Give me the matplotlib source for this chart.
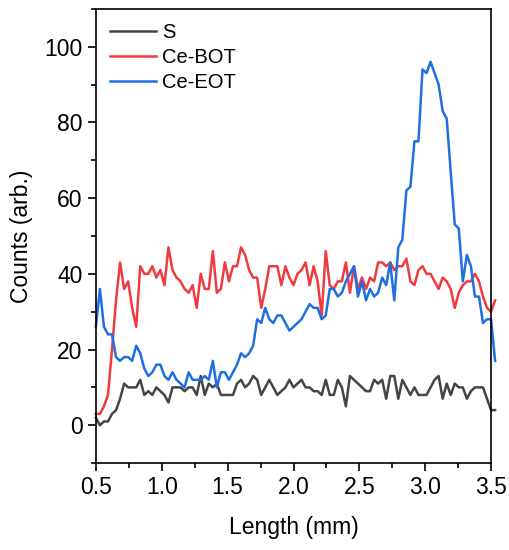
import numpy as np
import matplotlib.pyplot as plt
from matplotlib.ticker import MultipleLocator

plt.rcParams['font.family'] = ['Liberation Sans', 'DejaVu Sans']

# sample positions along the line scan (mm)
length_mm = np.linspace(0.5, 3.53, 100)

counts_s = [2, 0, 1, 1, 3, 4, 7, 11, 10, 10,
            10, 12, 8, 9, 8, 10, 9, 8, 6, 10,
            10, 10, 9, 10, 10, 8, 13, 8, 11, 10,
            11, 8, 8, 8, 8, 11, 12, 10, 11, 13,
            12, 8, 10, 12, 10, 8, 9, 10, 12, 10,
            11, 12, 10, 10, 9, 9, 8, 12, 8, 8,
            12, 10, 5, 13, 12, 11, 10, 9, 9, 12,
            11, 12, 7, 13, 13, 7, 12, 10, 8, 10,
            8, 8, 8, 10, 12, 13, 7, 11, 8, 11,
            10, 10, 7, 9, 10, 10, 10, 7, 4, 4]

counts_bot = [3, 3, 5, 8, 20, 33, 43, 36, 38, 31,
              26, 42, 40, 40, 42, 39, 41, 37, 47, 41,
              39, 38, 36, 35, 37, 31, 40, 36, 36, 46,
              35, 36, 43, 38, 42, 42, 47, 45, 41, 39,
              39, 31, 36, 42, 42, 42, 37, 42, 39, 37,
              40, 41, 43, 37, 42, 38, 29, 46, 37, 36,
              38, 38, 43, 35, 42, 36, 39, 36, 39, 38,
              43, 43, 42, 43, 41, 42, 42, 44, 38, 37,
              41, 42, 40, 40, 38, 36, 39, 38, 36, 31,
              35, 37, 38, 38, 40, 38, 34, 31, 30, 33]

counts_eot = [26, 36, 26, 24, 24, 18, 17, 18, 18, 17,
              21, 19, 15, 13, 14, 16, 16, 13, 12, 14,
              12, 11, 10, 14, 12, 12, 12, 13, 12, 17,
              10, 14, 14, 12, 14, 16, 19, 18, 19, 21,
              28, 27, 31, 28, 27, 29, 29, 27, 25, 26,
              27, 28, 30, 32, 31, 31, 28, 29, 36, 36,
              34, 35, 38, 40, 42, 34, 38, 33, 36, 34,
              35, 39, 37, 43, 33, 47, 49, 62, 63, 75,
              75, 94, 93, 96, 93, 90, 83, 81, 67, 53,
              52, 38, 45, 42, 34, 34, 27, 28, 28, 17]

fig = plt.figure(figsize=(5.1, 5.5), dpi=100)
ax = fig.add_axes([0.188, 0.158, 0.775, 0.826])

# data runs a little past the axis end in the original, so no clipping
ax.plot(length_mm, counts_s, color='#454545', lw=1.8, label='S', clip_on=False)
ax.plot(length_mm, counts_bot, color='#f03a40', lw=1.8, label='Ce-BOT', clip_on=False)
ax.plot(length_mm, counts_eot, color='#1f6fe0', lw=1.8, label='Ce-EOT', clip_on=False)

ax.set_xlim(0.5, 3.5)
ax.set_ylim(-10, 110)
ax.xaxis.set_major_locator(MultipleLocator(0.5))
ax.xaxis.set_minor_locator(MultipleLocator(0.25))
ax.yaxis.set_major_locator(MultipleLocator(20))
ax.yaxis.set_minor_locator(MultipleLocator(10))
ax.xaxis.set_major_formatter(plt.FormatStrFormatter('%.1f'))

ax.tick_params(which='major', direction='out', length=6, width=1.2, labelsize=16.5)
ax.tick_params(which='minor', direction='out', length=3.5, width=1.2)
for sp in ax.spines.values():
    sp.set_linewidth(1.2)

ax.set_xlabel('Length (mm)', fontsize=16.5, labelpad=12)
ax.set_ylabel('Counts (arb.)', fontsize=16.5, labelpad=8)

ax.legend(loc='upper left', frameon=False, fontsize=14.5, handlelength=2.3,
          labelspacing=0.3, handletextpad=0.3, borderaxespad=0.3)

fig.savefig('out.png', dpi=100)
